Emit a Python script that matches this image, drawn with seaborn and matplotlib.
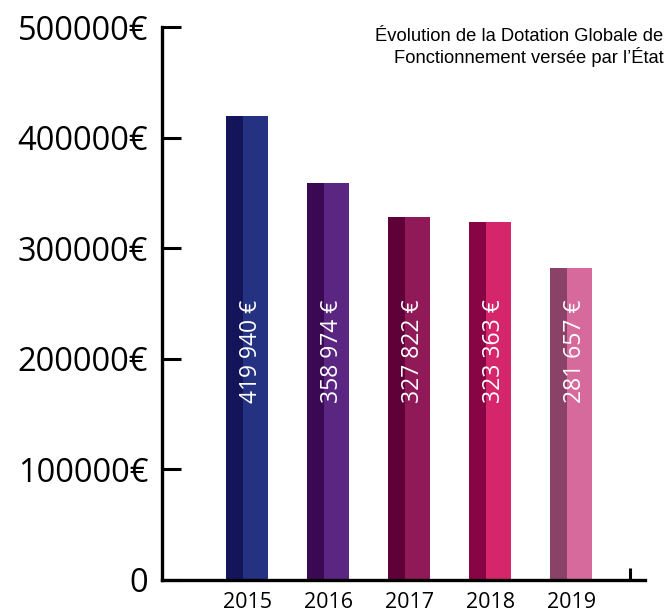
import pandas as pd
import numpy as np
import matplotlib
matplotlib.use('Agg')
import matplotlib.pyplot as plt
import seaborn as sns

years = ['2015', '2016', '2017', '2018', '2019']
values = [419940, 358974, 327822, 323363, 281657]
value_labels = ['419 940 €', '358 974 €', '327 822 €', '323 363 €', '281 657 €']
light_colors = ['#253282', '#5b2682', '#901a57', '#d5266b', '#d66a9d']
dark_colors = ['#13145a', '#3b0853', '#5f0038', '#880545', '#8a4269']
yticks = [0, 100000, 200000, 300000, 400000, 500000]
ytick_labels = ['0', '100000€', '200000€', '300000€', '400000€', '500000€']
title = 'Évolution de la Dotation Globale de\nFonctionnement versée par l\u2019État'

df = pd.DataFrame({'year': years, 'value': values})

sns.set_style('white')
plt.rcParams['font.family'] = ['Open Sans', 'DejaVu Sans']

fig = plt.figure(figsize=(6.68, 6.15), dpi=100)
ax = fig.add_axes([0.2425, 0.057, 0.723, 0.899])

sns.barplot(data=df, x='year', y='value', hue='year', palette=light_colors,
            width=0.52, legend=False, saturation=1, linewidth=0, ax=ax)

# darker left face of each bar
xpos = np.arange(len(years))
ax.bar(xpos - 0.154, values, width=0.21, color=dark_colors, linewidth=0)

for i, lab in enumerate(value_labels):
    ax.text(xpos[i] + 0.05, 160000, lab, rotation=90, color='white',
            fontsize=16.5, ha='center', va='bottom')

ax.set_ylim(0, 500000)
ax.set_xlim(-1.05, 4.91)
ax.set_yticks(yticks)
ax.set_yticklabels(ytick_labels, fontsize=23.5)
ax.tick_params(axis='y', left=True, direction='in', length=14, width=2.2, pad=10,
               color='black', labelcolor='black')
ax.tick_params(axis='x', which='major', length=0, pad=9, labelsize=15.5, labelcolor='black')
ax.set_xticks([4.72], minor=True)
ax.tick_params(axis='x', which='minor', bottom=True, direction='in', length=9, width=2.2,
               color='black')
ax.set_xlabel('')
ax.set_ylabel('')

for s in ['top', 'right']:
    ax.spines[s].set_visible(False)
for s in ['left', 'bottom']:
    ax.spines[s].set_color('black')
    ax.spines[s].set_linewidth(2.4)

fig.text(0.993, 0.955, title, ha='right', va='top', fontsize=13.2, color='black',
         family=['Liberation Sans', 'DejaVu Sans'], linespacing=1.15)

fig.savefig('out.png', dpi=100)
